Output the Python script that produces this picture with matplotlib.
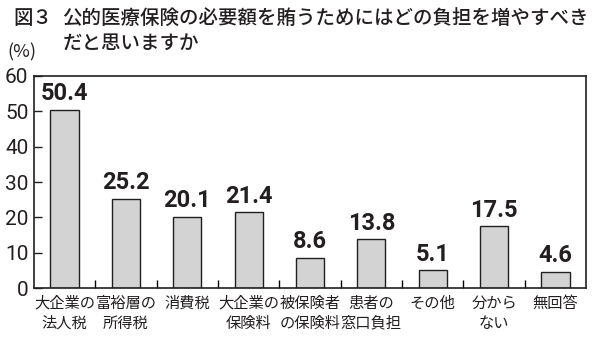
import matplotlib.pyplot as plt
import numpy as np

plt.rcParams['font.family'] = ['Noto Sans CJK JP', 'DejaVu Sans']

categories = ['大企業の\n法人税', '富裕層の\n所得税', '消費税', '大企業の\n保険料', '被保険者\nの保険料',
              '患者の\n窓口負担', 'その他', '分から\nない', '無回答']
values = [50.4, 25.2, 20.1, 21.4, 8.6, 13.8, 5.1, 17.5, 4.6]
yticks = [0, 10, 20, 30, 40, 50, 60]

ink = '#231f20'
fig = plt.figure(figsize=(5.95, 3.39), dpi=100)
ax = fig.add_axes([0.057, 0.150, 0.928, 0.626])

x = np.arange(len(categories))
ax.bar(x, values, width=0.46, color='#d3d3d4', edgecolor=ink, linewidth=1.0)
for xi, v in zip(x, values):
    ax.text(xi, v + 1.3, f'{v}', ha='center', va='bottom', fontsize=17,
            fontweight='bold', color=ink, family='Roboto')

ax.set_xlim(-0.5, len(categories) - 0.5)
ax.set_ylim(0, 60)
ax.set_yticks(yticks)
ax.set_yticklabels([str(t) for t in yticks], fontsize=15, color=ink, family='Roboto')
ax.tick_params(axis='y', direction='in', length=6, width=1, pad=4, colors=ink)

# category separators on the bottom axis
ax.set_xticks(x[:-1] + 0.5)
ax.set_xticklabels([])
ax.tick_params(axis='x', direction='in', length=6, width=1)
for xi, c in zip(x, categories):
    ax.text(xi, -1.8, c, ha='center', va='top', fontsize=11, color=ink,
            linespacing=1.25, transform=ax.transData)

for s in ax.spines.values():
    s.set_linewidth(1.2)
    s.set_color(ink)

fig.text(0.022, 0.945, '図３', fontsize=14, color=ink, va='center', fontweight='medium')
fig.text(0.105, 0.945, '公的医療保険の必要額を賄うためにはどの負担を増やすべき',
         fontsize=14, color=ink, va='center', fontweight='medium')
fig.text(0.105, 0.873, 'だと思いますか', fontsize=14, color=ink, va='center', fontweight='medium')
fig.text(0.013, 0.845, '(%)', fontsize=13, color=ink, va='center')

fig.savefig('out.png', dpi=100)
